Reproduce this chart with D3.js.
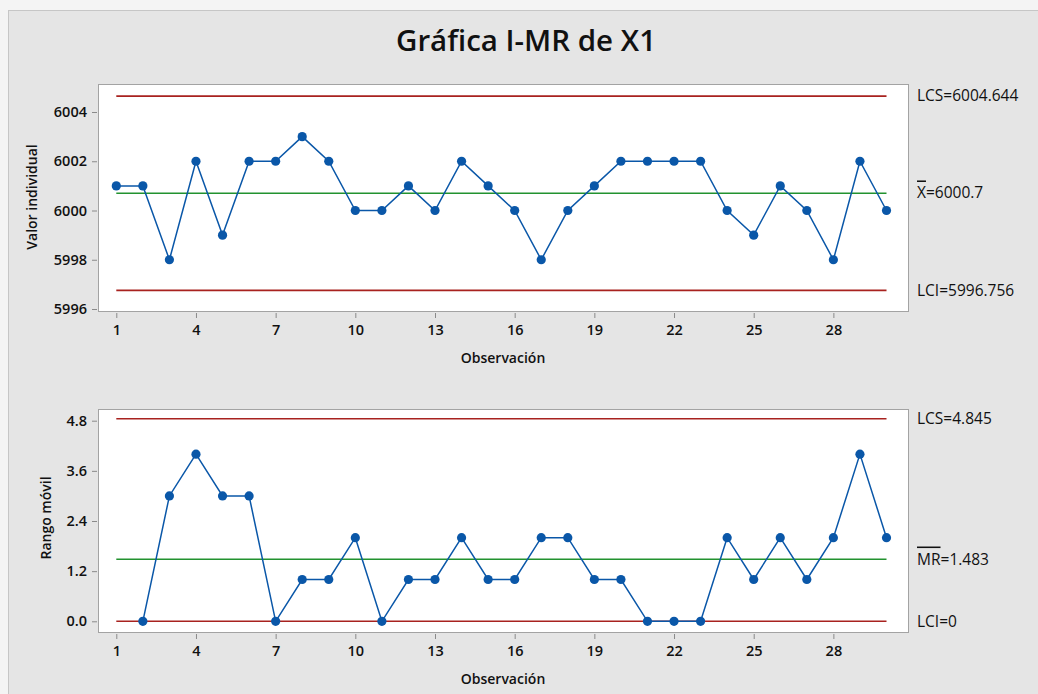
<!DOCTYPE html>
<html><head><meta charset="utf-8">
<script src="https://cdn.jsdelivr.net/npm/d3@7"></script>
<style>
html,body{margin:0;padding:0;background:#f4f4f4;}
svg{display:block;font-family:"Open Sans","Noto Sans",sans-serif;}
</style></head>
<body>
<svg id="c" width="1038" height="694"></svg>
<script>
const observations = d3.range(1, 31);
const individualValues = [6001,6001,5998,6002,5999,6002,6002,6003,6002,6000,6000,6001,6000,6002,6001,6000,5998,6000,6001,6002,6002,6002,6002,6000,5999,6001,6000,5998,6002,6000];
const movingRanges = [null,0,3,4,3,3,0,1,1,2,0,1,1,2,1,1,2,2,1,1,0,0,0,2,1,2,1,2,4,2];
const xTicks = [1,4,7,10,13,16,19,22,25,28];
const iTicks = [5996,5998,6000,6002,6004];
const mrTicks = [0,1.2,2.4,3.6,4.8];
const iLimits = {ucl:6004.644, center:6000.7, lcl:5996.756};
const mrLimits = {ucl:4.845, center:1.483, lcl:0};

const svg = d3.select("#c");
const RED = "#a8221f", GREEN = "#22922f", BLUE = "#0a57a8";
const FONT = "Open Sans, Noto Sans, sans-serif";

svg.append("rect").attr("x",8.5).attr("y",10.5).attr("width",1040).attr("height",700)
  .attr("fill","#e5e5e5").attr("stroke","#c6c6c6");

svg.append("text").attr("x",526).attr("y",51).attr("text-anchor","middle")
  .attr("font-size",29.5).attr("font-weight",600).attr("fill","#111").text("Gráfica I-MR de X1");

const x = d3.scaleLinear().domain([1,30]).range([116.3,886.5]);

function panel(cfg){
  const g = svg.append("g");
  const y = d3.scaleLinear().domain(cfg.ydom).range(cfg.yrange);
  g.append("rect").attr("x",98.5).attr("y",cfg.top+0.5).attr("width",810).attr("height",cfg.bottom-cfg.top)
    .attr("fill","#fff").attr("stroke","#a3a3a3");
  const ya = g.append("g").attr("transform","translate(97,0)")
    .call(d3.axisLeft(y).tickValues(cfg.yticks).tickSize(5).tickSizeOuter(0).tickFormat(cfg.yfmt));
  ya.select(".domain").remove();
  ya.selectAll("line").attr("stroke","#8a8a8a");
  ya.selectAll("text").attr("font-size",14.5).attr("font-weight",600).attr("fill","#111").attr("font-family",FONT).attr("x",-10);
  const xa = g.append("g").attr("transform",`translate(0,${cfg.bottom+2})`)
    .call(d3.axisBottom(x).tickValues(xTicks).tickSize(5).tickSizeOuter(0));
  xa.select(".domain").remove();
  xa.selectAll("line").attr("stroke","#8a8a8a");
  xa.selectAll("text").attr("font-size",14.5).attr("font-weight",600).attr("fill","#111").attr("font-family",FONT).attr("y",12);
  g.append("text").attr("x",503).attr("y",cfg.bottom+52).attr("text-anchor","middle")
    .attr("font-size",14).attr("font-weight",600).attr("fill","#111").text("Observación");
  g.append("text").attr("transform",`translate(${cfg.ylabX},${cfg.ylabY}) rotate(-90)`).attr("text-anchor","middle")
    .attr("font-size",14).attr("font-weight",600).attr("fill","#111").text(cfg.ylabel);
  const lim = cfg.limits;
  [[lim.ucl,RED],[lim.center,GREEN],[lim.lcl,RED]].forEach(([v,c])=>{
    g.append("line").attr("x1",x(1)).attr("x2",x(30)).attr("y1",y(v)).attr("y2",y(v))
      .attr("stroke",c).attr("stroke-width",1.6);
  });
  const pts = cfg.values.map((v,i)=>({o:observations[i],v})).filter(d=>d.v!==null);
  g.append("path").datum(pts).attr("fill","none").attr("stroke",BLUE).attr("stroke-width",1.5)
    .attr("d",d3.line().x(d=>x(d.o)).y(d=>y(d.v)));
  g.selectAll("circle.p").data(pts).enter().append("circle")
    .attr("cx",d=>x(d.o)).attr("cy",d=>y(d.v)).attr("r",4.6).attr("fill",BLUE);
  cfg.rlabels.forEach(r=>{
    const t = g.append("text").attr("x",917).attr("y",y(r.v)+5.2).attr("font-size",15.5).attr("fill","#111");
    if(r.bar){
      t.append("tspan").style("text-decoration","overline").text(r.bar);
    }
    t.append("tspan").text(r.text);
  });
}

panel({top:84,bottom:311,ydom:[5996,6004],yrange:[309,112],yticks:iTicks,yfmt:d3.format("d"),
  ylabel:"Valor individual",ylabX:37,ylabY:197,limits:iLimits,values:individualValues,
  rlabels:[{v:iLimits.ucl,text:"LCS="+iLimits.ucl},{v:iLimits.center,bar:"X",text:"="+iLimits.center},{v:iLimits.lcl,text:"LCI="+iLimits.lcl}]});
panel({top:409,bottom:632,ydom:[0,4.8],yrange:[621.3,420.7],yticks:mrTicks,yfmt:d3.format(".1f"),
  ylabel:"Rango móvil",ylabX:51,ylabY:518,limits:mrLimits,values:movingRanges,
  rlabels:[{v:mrLimits.ucl,text:"LCS="+mrLimits.ucl},{v:mrLimits.center,bar:"MR",text:"="+mrLimits.center},{v:mrLimits.lcl,text:"LCI="+mrLimits.lcl}]});
</script>
</body></html>
